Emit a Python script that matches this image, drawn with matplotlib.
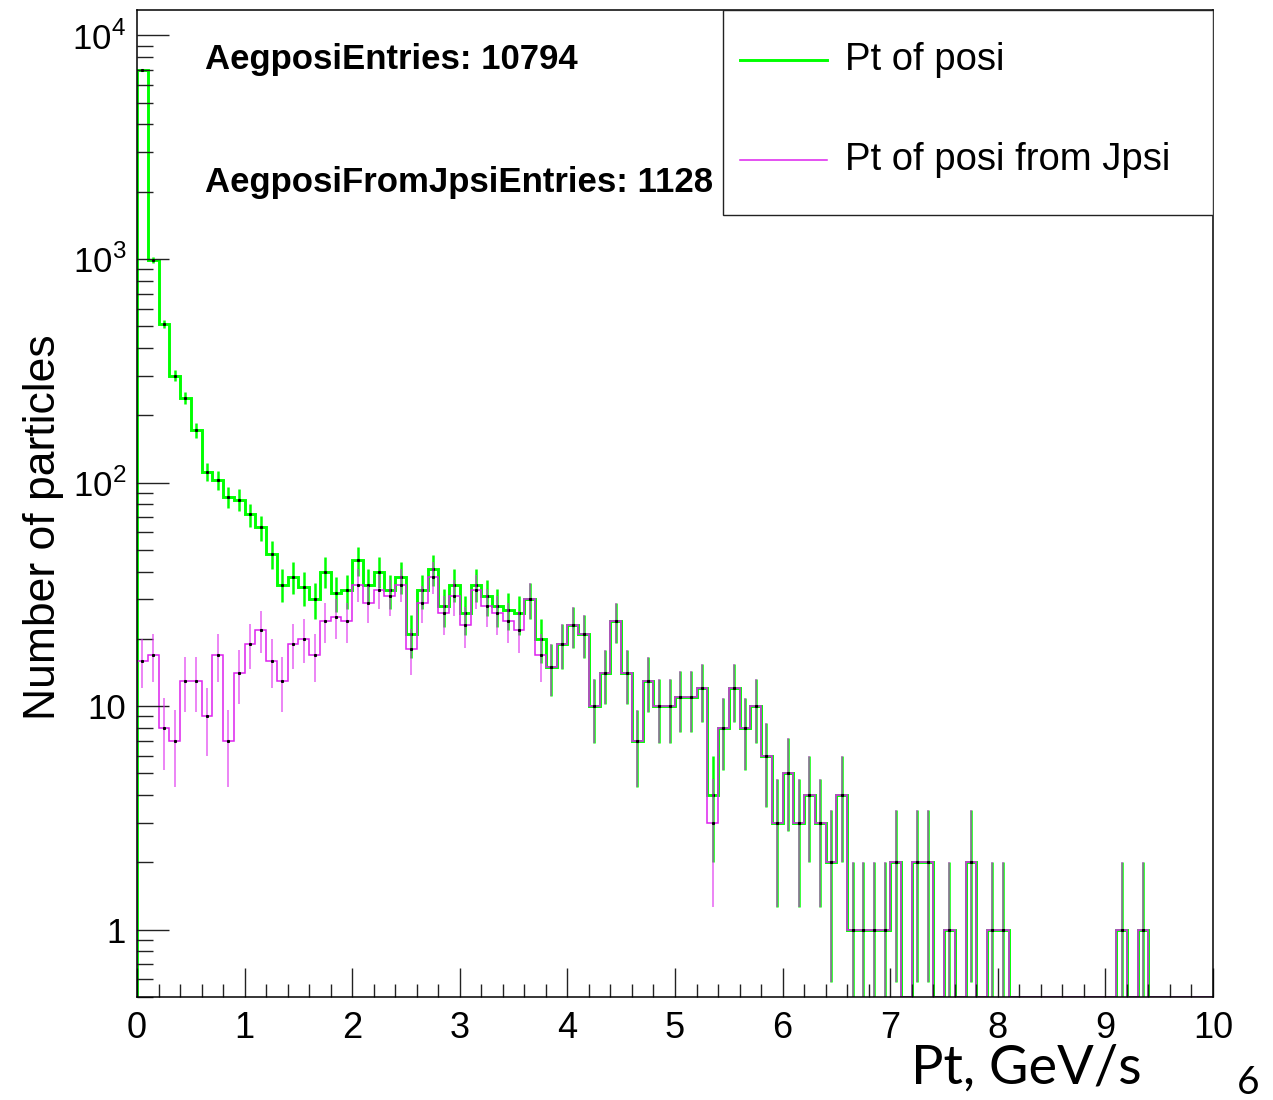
import matplotlib
matplotlib.use("Agg")
import matplotlib.pyplot as plt
import numpy as np
from matplotlib.patches import Rectangle
from matplotlib.lines import Line2D
from matplotlib.ticker import LogLocator, FixedLocator, FixedFormatter, NullFormatter, MultipleLocator

plt.rcParams['font.family'] = ['Liberation Sans', 'DejaVu Sans']
plt.rcParams['mathtext.fontset'] = 'custom'
plt.rcParams['mathtext.rm'] = 'Liberation Sans'

# 100 bins of 0.1 GeV between 0 and 10
bin_edges = np.linspace(0, 10, 101)

# counts per bin, all positrons
posi = [
    7000, 990, 513, 301, 240, 171, 112, 103, 86, 84,
    72, 63, 48, 35, 38, 34, 30, 40, 32, 33,
    45, 35, 40, 33, 38, 21, 33, 41, 28, 35,
    26, 35, 31, 28, 27, 26, 30, 20, 15, 19,
    23, 21, 10, 14, 24, 14, 7, 13, 10, 10,
    11, 11, 12, 4, 8, 12, 8, 10, 6, 3,
    5, 3, 4, 3, 2, 4, 1, 1, 1, 1,
    2, 0, 2, 2, 0, 1, 0, 2, 0, 1,
    1, 0, 0, 0, 0, 0, 0, 0, 0, 0,
    0, 1, 0, 1, 0, 0, 0, 0, 0, 0]

# counts per bin, positrons from J/psi
posi_jpsi = [
    16, 17, 8, 7, 13, 13, 9, 17, 7, 14,
    19, 22, 16, 13, 19, 20, 17, 24, 25, 24,
    35, 29, 33, 31, 35, 18, 29, 38, 26, 31,
    23, 33, 28, 26, 24, 22, 30, 17, 15, 19,
    23, 21, 10, 14, 24, 14, 7, 13, 10, 10,
    11, 11, 12, 3, 8, 12, 8, 10, 6, 3,
    5, 3, 4, 3, 2, 4, 1, 1, 1, 1,
    2, 0, 2, 2, 0, 1, 0, 2, 0, 1,
    1, 0, 0, 0, 0, 0, 0, 0, 0, 0,
    0, 1, 0, 1, 0, 0, 0, 0, 0, 0]

entries_posi = 10794
entries_jpsi = 1128
labels = ['Pt of posi', 'Pt of posi from Jpsi']
ytick_vals = [1, 10, 100, 1000, 10000]
ytick_text = ['1', '10', r'$10^{2}$', r'$10^{3}$', r'$10^{4}$']

YMIN, YMAX = 0.5, 1.3e4
GREEN = '#00ff00'
MAGENTA = '#dd22ee'

fig = plt.figure(figsize=(12.73, 11), dpi=100)
ax = fig.add_axes([137 / 1273, 1 - 997 / 1100, 1076 / 1273, 987 / 1100])
ax.set_yscale('log')


def draw_hist(counts, color, lw, elw, ealpha):
    c = np.array(counts, dtype=float)
    centers = 0.5 * (bin_edges[1:] + bin_edges[:-1])
    ax.stairs(np.clip(c, YMIN, None), bin_edges, baseline=YMIN, color=color, lw=lw)
    m = c > 0
    err = np.sqrt(c[m])
    lo = c[m] - np.maximum(c[m] - err, 0.3)
    ax.errorbar(centers[m], c[m], yerr=[lo, err], fmt='none', ecolor=color,
                elinewidth=elw, alpha=ealpha)
    ax.plot(centers[m], c[m], ls='none', marker='s', ms=1.2, color='k')


draw_hist(posi, GREEN, 2.1, 1.8, 1.0)
draw_hist(posi_jpsi, MAGENTA, 1.1, 1.1, 0.7)

ax.set_xlim(0, 10)
ax.set_ylim(YMIN, YMAX)

ax.xaxis.set_major_locator(MultipleLocator(1))
ax.xaxis.set_minor_locator(MultipleLocator(0.2))
ax.yaxis.set_major_locator(FixedLocator(ytick_vals))
ax.yaxis.set_major_formatter(FixedFormatter(ytick_text))
ax.yaxis.set_minor_locator(LogLocator(base=10, subs=np.arange(2, 10)))
ax.yaxis.set_minor_formatter(NullFormatter())

ax.tick_params(axis='both', which='both', direction='in', width=1.0, color='#222222',
               top=False, right=False)
ax.tick_params(axis='x', which='major', length=21, labelsize=26, pad=10)
ax.tick_params(axis='x', which='minor', length=9.5)
ax.tick_params(axis='y', which='major', length=23, labelsize=25, pad=8)
ax.tick_params(axis='y', which='minor', length=11.5)
for s in ax.spines.values():
    s.set_linewidth(1.1)

# stats text
ax.text(205 / 1273, 1 - 59 / 1100, 'AegposiEntries: %d' % entries_posi,
        transform=fig.transFigure, fontsize=25, fontweight='bold', va='center')
ax.text(205 / 1273, 1 - 182 / 1100, 'AegposiFromJpsiEntries: %d' % entries_jpsi,
        transform=fig.transFigure, fontsize=25, fontweight='bold', va='center')

# legend box
lx0 = (723 - 137) / 1076
ly0 = (997 - 215) / 987
ax.add_patch(Rectangle((lx0, ly0), 1 - lx0, 1 - ly0, transform=ax.transAxes,
                       facecolor='white', edgecolor='#222222', lw=1.0, zorder=5))
for ypx, col, lab, lw in [(60, GREEN, labels[0], 2.1), (160, MAGENTA, labels[1], 1.1)]:
    yy = (997 - ypx) / 987
    ax.add_line(Line2D([(740 - 137) / 1076, (827 - 137) / 1076], [yy, yy],
                       transform=ax.transAxes, color=col, lw=lw, zorder=6))
    ax.text((845 - 137) / 1076, yy, lab, transform=ax.transAxes, fontsize=27.5,
            va='center', ha='left', zorder=6)

# axis titles
fig.text(44 / 1273, 1 - 527 / 1100, 'Number of particles', rotation=90,
         fontsize=32, ha='center', va='center')
fig.text(1026 / 1273, 1 - 1068 / 1100, 'Pt, GeV/s', fontsize=39,
         family=['Lato', 'DejaVu Sans'], ha='center', va='center')
fig.text(1248 / 1273, 1 - 1083 / 1100, '6', fontsize=28,
         family=['Lato', 'DejaVu Sans'], ha='center', va='center')

fig.savefig('out.png', dpi=100)
